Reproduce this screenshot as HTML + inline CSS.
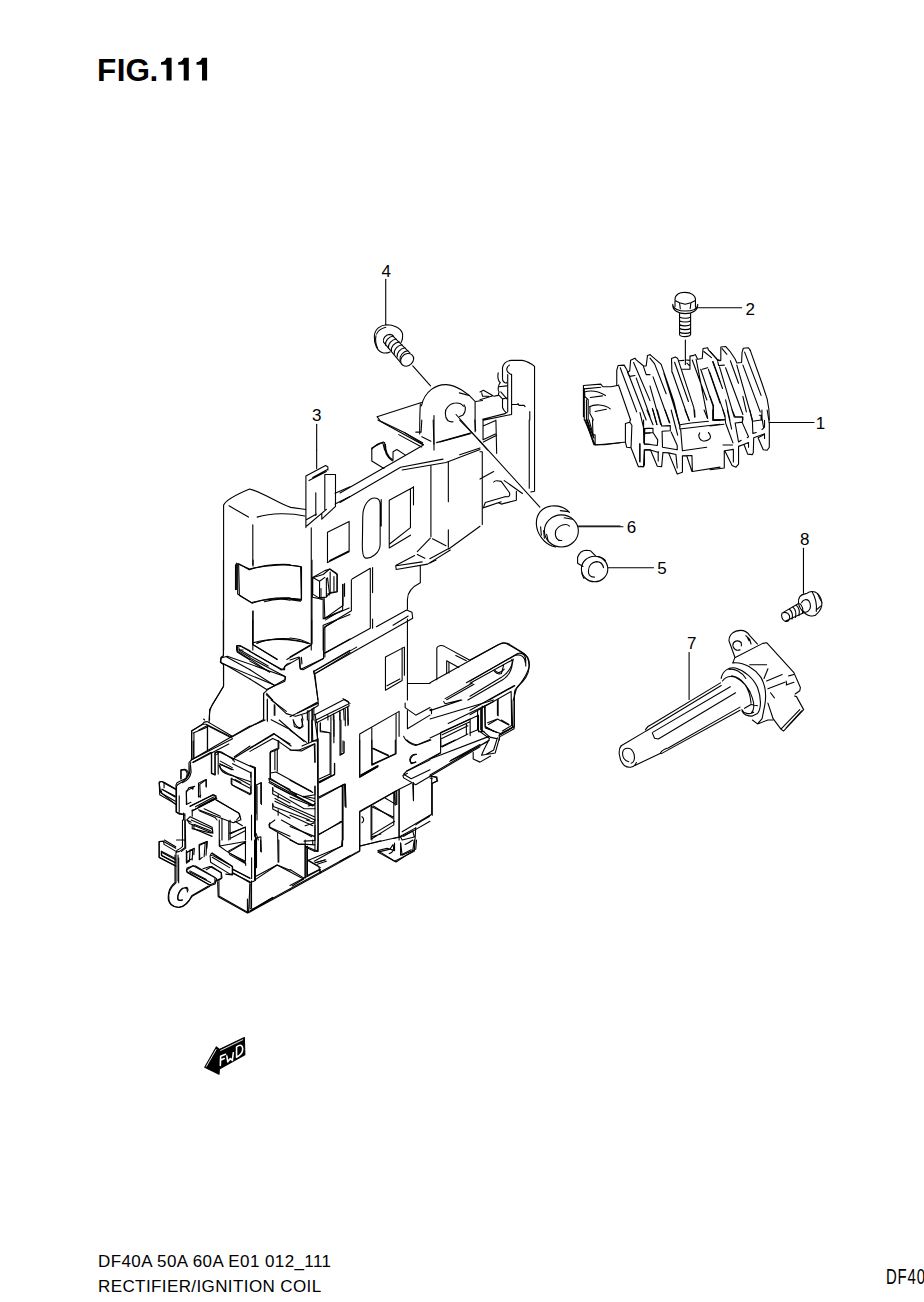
<!DOCTYPE html>
<html><head><meta charset="utf-8">
<style>
html,body{margin:0;padding:0;background:#fff;}
body{width:924px;height:1302px;position:relative;overflow:hidden;font-family:"Liberation Sans",sans-serif;color:#000;}
.t{position:absolute;white-space:nowrap;line-height:1;}
#l1{left:98px;top:1253px;font-size:17px;letter-spacing:0.4px;}
#l2{left:98px;top:1278px;font-size:17px;letter-spacing:0.4px;}
#df{left:886px;top:1266px;font-size:22px;transform-origin:0 0;transform:scaleX(0.68);letter-spacing:1.2px;}
svg{position:absolute;left:0;top:0;}
svg path,svg ellipse,svg circle,svg polyline,svg line{fill:none;stroke:#000;stroke-width:1.1;vector-effect:non-scaling-stroke;stroke-linejoin:round;stroke-linecap:round;}
svg text{font-family:"Liberation Sans",sans-serif;font-size:17px;fill:#000;}
</style></head><body>
<div class="t" id="l1">DF40A 50A 60A E01 012_111</div>
<div class="t" id="l2">RECTIFIER/IGNITION COIL</div>
<div class="t" id="df">DF40</div>
<svg width="924" height="1302" viewBox="0 0 924 1302">
<text x="312" y="421">3</text>
<text x="381.5" y="276.5">4</text>
<text x="745.5" y="314.5">2</text>
<text x="815.7" y="428.5">1</text>
<text x="626.8" y="533">6</text>
<text x="657.3" y="574">5</text>
<path d="M769,422.5 L814,422.5"/>
<path d="M583,566.5 L577.6,563.3 L577.6,557.3 C579.2,553 582.4,550.3 586.2,550.3 L590.6,550.8 L595.4,555.7"/>
<ellipse cx="594.6" cy="569" rx="13.2" ry="12.7"/>
<path d="M597,556.5 C600.5,556.6 603.5,558 605.5,560.5 M581.8,573 C582.3,575 583,577 584,578.5"/>
<path d="M603.5,567.6 C602.5,562.7 599.2,561.6 596.5,561.6 C591.6,562.2 588.4,566 588.4,571.4 C588.4,574.6 590.6,576.8 594.4,577.1"/>
<path d="M608,567.7 L653.5,567.7 M578.2,526.8 L623,526.8"/>
<text x="800" y="544.5">8</text>
<text x="687" y="648.5">7</text>
<g style="font-family:'Liberation Sans',sans-serif;font-weight:bold;font-size:31.5px">
<text x="97" y="81" style="font-size:31.5px;font-weight:bold">F</text>
<text x="116.8" y="81" style="font-size:31.5px;font-weight:bold">I</text>
<text x="125.6" y="81" style="font-size:31.5px;font-weight:bold">G</text>
<text x="149.6" y="81" style="font-size:31.5px;font-weight:bold">.</text>
</g>
<path style="fill:#000;stroke:none" d="M166.5,57.8 L171.6,57.8 L171.6,80.4 L166.5,80.4 L166.5,64.8 L161.0,64.8 L161.0,62.2 C163.5,62 166.0,60.5 166.5,57.8 Z M183.7,57.8 L188.8,57.8 L188.8,80.4 L183.7,80.4 L183.7,64.8 L178.2,64.8 L178.2,62.2 C180.7,62 183.2,60.5 183.7,57.8 Z M202.0,57.8 L207.1,57.8 L207.1,80.4 L202.0,80.4 L202.0,64.8 L196.5,64.8 L196.5,62.2 C199.0,62 201.5,60.5 202.0,57.8 Z "/>
<path d="M305.9,476 L305.9,527.6 M305.9,476 L325.6,465.5 L327.9,467 L327.9,470 M309,480.6 L326.4,471.5 M312.7,477.6 L327.9,469.2 M324.8,474.5 L335.5,474.5 L335.5,506.4 M324.8,474.5 L324.8,509.4 M315.8,492.7 L315.8,515.5 M305.9,520 L316.5,514 M321.8,514 L321.8,519.2 L335.5,506.4 M306.7,526 L326.4,509.4"/>
<path d="M447.8,420.5 C444.5,417 444.5,410 447.8,406.9 C450,404.5 453,403 455.6,403 C458.5,402.8 461.5,403.5 463.4,406.2 M464,404.9 C466,407 466,412 462.7,415.3 L459.5,416.6 M447.8,420.5 C449.5,421.8 451,422 453,421.8"/>
<path d="M430.3,538.1 L417.3,551.7 M432.5,538.7 L446,545.7 M417.3,554.4 L424.9,558.2 M429.8,558.7 L448.7,548.4 M448.7,549 L480,526.2 M396.2,565.2 L414.6,555.5 M395.7,565.7 L396.2,569.5 L427.6,564.1 L450.3,550 M396.2,565.7 L422.2,561.9"/>
<!--LABELS-->
<g clip-path="url(#c1)"><g transform="translate(150,250) scale(0.21645)">
<path d="M770,805 L770,924"/>
</g></g>
<g clip-path="url(#c2)"><g transform="translate(350,250) scale(0.21645)">
<path d="M165,135 L165,345"/>
<path d="M290,535 L372,628"/>
<path d="M330,720 C345,650 400,620 445,622 C490,625 545,660 578,700 L578,840"/>
<path d="M505,660 L550,672 M580,700 L612,695"/>
<path d="M325,710 C322,760 322,800 322,850 M388,765 L388,924"/>
<path d="M490,760 L635,924"/>
<path d="M125,770 L330,705 M125,770 L140,790 L251,843 L339,899 M225,853 L331,910 M400,890 L560,845"/>
<path d="M100,920 C120,900 140,888 152,892 L160,924"/>
</g></g>
<g clip-path="url(#c3)"><g transform="translate(150,450) scale(0.21645)">
<path d="M770,0 L770,85"/>
<path d="M340,255 C350,230 400,205 460,180 C520,195 600,250 650,265 L720,275"/>
<path d="M340,255 L340,924 M365,258 L455,310 M495,310 C560,290 650,290 715,305 M475,345 L475,530 M745,360 L745,924"/>
<path d="M405,525 L405,665 L470,705 C530,690 620,680 700,690 L700,540 C640,525 540,530 460,550 L405,525 M395,530 L395,645"/>
<path d="M475,745 L475,924 M480,890 C540,870 650,870 740,895 M400,905 L400,924 L430,924"/>
<path d="M820,380 L920,330 L920,470 L820,520 Z M830,510 L920,465"/>
<path d="M750,590 L750,680 L800,690 L800,780 L890,740 L890,620 M750,590 L800,575 L830,550 L865,575 L865,655 L820,665 M820,590 L830,670 M790,640 L790,690"/>
<path d="M800,810 L800,924 M800,810 L924,760 M805,780 L920,730 M855,200 L924,170 M855,250 L924,215"/>
</g></g>
<g clip-path="url(#c4)"><g transform="translate(340,420) scale(0.15152)">
<path d="M250,0 L550,165 M430,85 L545,150 M545,168 L0,482"/>
<path d="M0,545 L400,312 L680,258 M410,330 L700,280 L924,195 M790,230 L924,185"/>
<path d="M290,320 L210,270 L210,185 L285,145 L295,150 C290,200 310,245 345,270 M350,265 L350,210 L375,195 L430,230 M300,160 C300,210 320,245 345,260"/>
<path d="M500,80 L535,80 L540,0 M615,0 L620,160 M660,145 L860,90 M790,0 L924,140 M890,0 L895,70 M540,110 L600,140"/>
<path d="M150,640 C150,560 190,515 230,515 C260,515 265,540 265,560 L265,820 C265,880 200,920 165,910 C150,900 145,870 148,800 Z M272,525 L272,700"/>
<path d="M325,530 L325,845 L465,760 M325,530 L480,445 M465,455 L465,710 L325,820 M485,440 L485,560"/>
<path d="M600,300 L600,770 M715,275 L715,540 M715,725 L715,840"/>
</g></g>
<g clip-path="url(#c5)"><g transform="translate(480,420) scale(0.15152)">
<path d="M20,0 L20,130 L105,90 M105,0 L110,220 M20,40 L100,5 M22,145 L110,100"/>
<path d="M325,0 L325,450 M360,0 L360,470 L335,475"/>
<path d="M0,140 L395,575"/>
<path d="M0,210 L15,210 L15,690 M0,390 L90,340"/>
<path d="M90,410 C95,400 120,400 140,405 L195,480 C200,500 190,510 170,505 L35,545 L25,570 M160,400 L280,485 M240,470 L240,530 L140,555 L120,545 M20,580 L140,540"/>
<path d="M372,686 C370,620 410,575 470,568 C520,562 560,575 590,610"/>
<ellipse cx="537" cy="732" rx="112" ry="106"/>
<path d="M590,700 C570,680 520,690 500,730 C490,770 510,800 540,795"/>
<path d="M372,686 C375,750 420,810 474,832 L500,838"/>
<path d="M650,700 L924,700"/>
<path d="M530,598 L585,605 M555,645 L610,655 M400,705 L405,760 M420,730 L425,780 M440,755 L450,800"/>
<path d="M690,0 L760,165 L924,150 M705,0 L750,150 M720,0 L752,120"/>
</g></g>
<g clip-path="url(#c6)"><g transform="translate(150,560) scale(0.15152)">
<path d="M485,0 L485,632 C470,642 465,662 470,680 L485,690 L485,835 L430,924"/>
<path d="M570,20 L570,195 M585,25 L590,235 L675,285 C740,260 830,245 924,250 M585,25 L655,65 C720,40 800,25 924,30 M680,0 L680,40 M755,275 C820,255 880,255 924,265"/>
<path d="M680,335 L680,560 L840,655 M705,550 C780,520 850,515 924,520"/>
<path d="M575,565 L575,600 L790,740 M575,565 L600,570 L865,720 L880,720 C895,690 910,680 924,680 M598,595 L780,700"/>
<path d="M475,645 L510,635 L895,770 L890,800 L770,855 M480,685 L820,825"/>
<path d="M750,880 L750,924 M770,880 L810,924"/>
</g></g>
<g clip-path="url(#c7)"><g transform="translate(290,560) scale(0.15152)">
<path d="M0,35 L70,45 L75,265 L0,255 M0,262 L70,272"/>
<path d="M145,0 L145,555 L0,640 M0,515 C60,520 100,535 125,550"/>
<path d="M150,115 L230,70 L265,60 L310,90 L310,210 L265,215 L240,245 L190,250 L150,225 Z M150,115 L195,140 L230,115 M195,140 L195,250 M240,120 L240,240 M265,80 L265,210 M290,110 L290,205 M350,160 L350,300 L230,385 L225,250 M360,155 L360,240 M235,395 L300,355"/>
<path d="M410,125 L530,55 L530,450 L230,615 M545,50 L545,215 M545,390 L545,450 M405,130 L405,335 L230,440 L230,640"/>
<path d="M0,660 L60,640 L65,710 L75,720 L220,650 M155,735 L160,752 L810,385 L805,345 L770,330 L570,440 M160,735 L440,575 M680,430 L780,370"/>
<path d="M860,40 L860,150 C820,170 775,200 775,260 L775,325"/>
<path d="M775,390 L775,924 M775,815 L924,815"/>
<path d="M630,640 L630,860 L740,795 M630,640 L755,575 L755,760 M740,580 L740,790 M640,830 L725,785"/>
<path d="M160,752 L185,924 M350,915 L365,924"/>
</g></g>
<g clip-path="url(#c8)"><g transform="translate(430,560) scale(0.15152)">
<path d="M0,20 L40,0"/>
<path d="M45,790 L45,580 C50,565 75,560 95,570 L260,660 M110,665 L110,750 M110,665 L190,710 M125,675 L125,745 M170,630 L240,665"/>
<path d="M0,810 L450,560 C480,545 510,545 530,560 L610,610 C645,630 660,660 655,700 C645,760 600,810 570,850 L550,924"/>
<path d="M240,810 L560,630 C600,615 630,645 630,680 M430,730 C445,750 470,745 490,720 M540,655 C550,700 530,760 480,790 L250,924 M390,924 L560,830"/>
<path d="M100,915 L280,812 M110,922 L290,820"/>
</g></g>
<g clip-path="url(#c9)"><g transform="translate(150,700) scale(0.15152)">
<path d="M430,0 C400,40 390,70 390,150"/>
<path d="M275,205 L345,160 L370,160 L540,245 M285,218 L380,178 M380,170 L380,330 M275,205 L275,390 M290,218 L290,380"/>
<path d="M540,245 L750,128 M275,395 L545,255 M285,412 L520,290"/>
<path d="M270,410 C265,420 265,430 265,440 C265,480 260,510 215,540 C200,550 180,555 175,570 L175,740 L230,760"/>
<path d="M205,465 L205,520 M205,465 L230,460 C245,470 250,490 240,505"/>
<path d="M750,0 L750,130 M775,0 L775,140 M800,0 L900,75 M820,30 L820,100 M800,130 L924,195"/>
<path d="M405,345 L405,485 L430,495 L430,350 L450,340 L690,450 L690,900 M440,360 L455,345 M545,395 L560,380 L820,225 L924,290 M570,375 L680,305 M545,420 L665,480 L665,510 M460,420 L540,460"/>
<path d="M460,430 C460,470 500,490 545,500 L665,540 M540,515 L540,560 L665,620 L665,570 M560,525 L600,545"/>
<path d="M700,560 L700,750 M735,545 L735,690 M850,270 L850,320 M795,340 L840,320 L840,470 M795,340 L795,520 M785,520 L924,590 M785,545 L924,620 M810,580 L810,620 L924,680 M810,690 L810,720 L924,780 M790,810 L790,840 L924,900 M825,650 L924,705"/>
<path d="M60,545 C60,535 80,535 95,550 L170,590 M60,545 L70,610 L170,690 M80,590 L165,640"/>
<path d="M240,610 L240,690 L270,675 M240,610 L255,580 L295,570 M320,550 L320,640 L335,630 M320,550 L370,525 L370,570"/>
<path d="M265,700 L420,625 L440,650 L280,730 M300,705 L420,640 M440,660 L590,750 L600,790 L550,810 L320,725"/>
<path d="M230,750 L230,924 M245,790 L260,815 L415,880 L410,840 L265,770 Z M290,830 L290,850 L410,900 M475,780 L475,924 M520,800 L520,924 M525,880 L630,840 L630,924 M560,800 L610,830"/>
<path d="M670,760 L670,924 M700,880 L715,924"/>
</g></g>
<g clip-path="url(#c10)"><g transform="translate(290,700) scale(0.15152)">
<path d="M0,110 L60,80 L180,20 M50,85 L180,15 M125,70 L125,270 M145,60 L150,270 L180,270 M0,330 L60,330 L160,290 L165,410 M20,130 C30,160 50,190 75,180 C85,165 80,140 75,125 M0,200 L110,280"/>
<path d="M165,95 L175,150 L390,40 L385,10 L365,0 M180,150 L185,924 M200,150 L200,210 L260,215 M270,110 L270,500 L190,540 M290,100 L290,240 M295,420 L295,490 L195,545 M330,80 L330,365 L355,350 M350,270 L350,340 M365,60 L365,170 M380,50 L385,160"/>
<path d="M0,530 L150,610 M0,600 L160,670 M0,640 L150,700 M0,700 L160,770 M0,760 L150,830 M0,835 L160,900 M90,635 L165,650 M120,700 L165,690 M100,830 L165,810 M165,570 L165,924"/>
<path d="M190,640 L360,555 L365,700 M190,890 L340,800 M350,560 L350,924"/>
<path d="M460,225 L460,510 L580,440 M460,225 L720,75 L720,240 M700,90 L700,355 L540,430 M540,185 L540,430 M545,320 L650,370 M470,495 L580,435"/>
<path d="M760,20 L760,50 L830,100 L924,50 M775,70 L775,190 L924,100 M750,240 C760,270 800,295 830,300 L924,260 M830,360 C800,365 785,395 800,420 L830,410 M750,490 L800,520 L924,460 M750,490 L770,470 L924,395 M815,545 L815,660"/>
<path d="M460,740 L460,924 M460,740 L700,600 L700,690 M540,700 L540,924 M550,700 L680,780 M720,590 L720,924 M540,890 L690,800 M475,770 C490,780 490,800 475,810"/>
<path d="M740,870 L924,760 M750,900 L924,800"/>
</g></g>
<g clip-path="url(#c11)"><g transform="translate(430,700) scale(0.15152)">
<path d="M0,70 L210,0 M90,10 L100,25 L200,0 M0,125 L420,0 M0,65 L10,60 L10,90"/>
<path d="M120,155 L420,10 M445,0 L445,100 M540,0 L545,180 L460,225 M555,0 L555,190 L465,240 M380,150 L445,125 L520,165 M370,180 L440,215"/>
<path d="M0,250 L320,100 L320,210 L360,210 M345,40 L345,200 L395,245 L440,255 M335,60 L335,195 M360,40 L365,185 L460,220"/>
<path d="M70,215 L70,350 L0,390 M70,215 L265,125 L265,235 M80,230 L260,145 M75,255 L250,170 M80,310 L250,225 M240,160 L240,230"/>
<path d="M0,390 L390,240 M130,405 L380,275 M0,495 L390,265"/>
<path d="M390,260 L355,330 L340,365 L430,350 L460,245 M370,360 L420,330 L445,250 M285,345 L285,390 L330,410 L400,370"/>
<path d="M0,500 L40,510 L50,535 L15,550 L15,760 M0,515 L15,520"/>
</g></g>
<g clip-path="url(#c12)"><g transform="translate(150,840) scale(0.15152)">
<path d="M60,10 L60,115 L165,170 M60,10 L90,10 L170,55 M75,75 L165,120 M75,90 L80,105 L165,150 M95,0 L170,45"/>
<path d="M165,100 L165,280 C140,300 120,340 120,380 C120,420 150,445 190,445 C230,440 260,400 280,370 L395,305 M185,100 L185,270 M175,0 L230,0 L230,50 L195,75 L175,80"/>
<path d="M230,315 C200,320 180,360 185,390 C190,400 210,400 215,395 M215,320 C235,310 250,320 245,335"/>
<path d="M240,70 L240,150 L260,140 L265,65 M245,80 L285,60 M245,140 L275,125 M325,30 L325,130 L345,115 M325,30 L375,10 L370,100"/>
<path d="M240,200 L245,185 L285,170 L440,255 L430,290 L400,300 L245,215 Z M260,210 L400,280 M350,190 L395,175 L470,215 L470,255 L430,275 M400,95 L410,85 L545,175 L545,230 L500,225 M420,105 L520,160 M545,195 L660,250 M545,220 L660,275"/>
<path d="M455,265 L455,370 L650,480 L660,290 M650,480 L924,330 M660,470 L810,380 M670,445 L670,270 M690,265 L840,165 L924,200"/>
<path d="M460,0 L460,40 L630,10 L630,140 L520,85 M520,80 L630,15 M700,0 L700,180 M730,0 L730,75 M850,0 L850,145 M690,0 L690,260"/>
</g></g>
<g clip-path="url(#c13)"><g transform="translate(290,840) scale(0.15152)">
<path d="M0,0 L60,30 L150,30 L150,0 M100,0 L100,245 M115,40 L115,240 M100,40 L180,75 L185,0 M115,130 L190,175 L200,215 M0,195 L90,250"/>
<path d="M0,330 L460,75 L460,0 M0,300 L200,195 M170,150 L235,130 M180,160 L240,140 M160,140 L340,40 L345,0"/>
<path d="M465,40 L600,5 M580,70 L700,145 L830,60 L835,0 M580,70 L640,55 L690,70 L690,20 M730,20 L730,100 L800,65 M760,30 C780,20 790,15 810,0"/>
</g></g>
<g clip-path="url(#b2)"><g transform="translate(650,280) scale(0.15152)">
<path d="M165,130 C165,95 195,80 232,82 C270,82 300,100 300,130 M165,135 L165,175 M300,130 L300,180 M195,150 L200,190 M270,150 L265,190 M165,135 L195,150 L232,160 L270,150 L300,135"/>
<path d="M150,160 C145,200 190,222 232,222 C280,222 318,200 315,160 M150,165 C155,190 190,205 232,205 C280,205 312,190 315,165"/>
<path d="M195,222 L195,360 C200,378 262,378 268,360 L268,222 M197,245 C210,255 255,255 266,245 M197,270 C210,280 255,280 266,270 M197,295 C210,305 255,305 266,295 M197,320 C210,330 255,330 266,320 M197,345 C210,355 255,355 266,345"/>
<path d="M315,183 L605,183"/>
</g></g>
<g transform="translate(760,530) scale(0.08658)">
<path d="M502,210 L502,730"/>
<path d="M445,840 C440,775 475,745 520,738 L545,730 C570,705 630,700 665,735 C700,770 720,830 712,880 C700,930 670,960 640,985 C610,1000 560,995 530,970 L505,950 M445,840 C450,880 470,920 505,950"/>
<path d="M600,710 C630,760 660,850 650,940 M665,735 L690,790 L715,835 M700,880 L660,915"/>
<path d="M480,840 C500,800 540,795 565,820 C590,850 590,910 560,935 C540,955 515,950 500,940"/>
<path d="M255,960 L445,848 M290,1055 L505,955 M255,960 C240,990 255,1040 290,1055 C330,1065 350,1030 340,990 C330,960 300,945 270,955"/>
<path d="M340,915 C370,940 380,990 370,1030 M380,890 C410,915 420,960 410,1010 M420,870 C450,895 460,940 450,990 M460,850 C490,875 500,920 490,965"/>
</g>
<g transform="translate(600,620) scale(0.15152)">
<path d="M588,215 L588,525"/>
<path d="M140,830 L300,735 M300,725 C310,705 325,695 340,690 L795,415 M305,732 L800,432 M350,740 L860,440 M345,745 L360,780 L385,785 L895,480 M400,875 C410,860 430,850 450,845 L924,575 M405,882 L924,595 M230,960 L400,880"/>
<path d="M140,830 C120,850 120,920 160,960 C190,980 230,975 240,940 M150,870 C160,840 200,840 215,865 C235,895 230,940 205,945 M150,870 C145,900 160,930 190,935"/>
</g>
<g transform="translate(690,620) scale(0.12987)">
<path d="M345,285 L300,160 C300,110 340,80 390,80 C420,80 440,90 460,120 L520,185 M395,175 C370,150 330,160 330,195 C330,225 360,240 385,230 M360,160 C390,155 400,180 395,200 M430,120 L460,150 L470,185 M440,130 L455,160"/>
<path d="M345,290 L560,180 L590,175 L800,405 L850,520 L845,545 L810,570 M330,330 L345,290"/>
<path d="M240,450 C250,390 300,360 350,370 C420,390 490,450 520,520 C550,600 550,680 520,720 L480,740 C440,740 410,720 400,700 M250,470 C270,440 310,430 350,440 C410,470 460,530 480,600 C500,660 490,700 470,720 M300,380 C340,370 400,400 430,450 M320,430 C400,440 460,520 470,640 M420,680 L470,650 L520,660 M400,690 C410,720 460,730 490,710"/>
<path d="M330,330 C420,320 500,380 545,440 C580,500 590,580 575,660 L555,760 L520,800 L480,770 M520,800 L600,770 L640,770"/>
<path d="M460,345 L590,345 M600,375 L570,450 M590,470 L710,420 M600,530 L730,480 M740,500 L800,480 M620,560 L650,600 M740,470 L745,500 M760,430 L800,420"/>
<path d="M640,760 L700,840 L720,855 L875,690 L820,590 L805,585 M700,840 L845,690 M740,830 L860,700 M600,640 L640,760"/>
</g>
<g transform="translate(195,1030) scale(0.06494)">
<path style="fill:#000;stroke:#000" d="M150,575 L330,260 L375,300 L760,115 L768,380 L375,600 L370,680 Z"/>
<path style="stroke:#fff;stroke-width:0.9" d="M175,560 L325,300 M395,315 L735,150"/>
<path style="stroke:#fff;stroke-width:1.6" d="M390,545 L395,405 L470,375 M392,465 L450,440 M490,400 L505,490 L545,440 L575,470 L590,350 M640,420 L640,260 C700,215 735,235 735,290 C735,350 690,395 640,420 Z"/>
</g>
<g transform="translate(350,300) scale(0.10823)">
<path d="M225,330 C230,270 280,230 340,228 C400,228 470,260 485,310 C490,350 480,380 470,395 M225,330 C220,400 250,480 310,490 C340,492 360,485 370,480"/>
<path d="M245,315 C260,280 290,262 330,252 M240,330 C232,370 238,410 255,448"/>
<path d="M310,390 C300,350 330,320 370,318 C390,318 400,330 405,340 M385,322 L555,490 M310,390 L470,580"/>
<path d="M470,580 C460,540 490,500 530,495 C565,490 590,515 588,545 C585,580 555,610 520,612 C495,612 478,600 470,580"/>
<path d="M400,333 C355,340 322,380 328,418 M427,360 C382,367 349,407 355,445 M454,387 C409,394 376,434 382,472 M481,414 C436,421 403,461 409,499 M508,441 C463,448 430,488 436,526 M535,468 C490,475 457,515 463,553"/>
</g>
<g clip-path="url(#d1a)"><g transform="translate(150,620) scale(0.10823)">
<path d="M678,0 L678,330 L655,345 L650,390 L680,405 L680,610 L550,830 L550,924 M705,340 L924,460 M680,405 L924,545"/>
<path d="M805,235 L805,295 L924,370 M805,235 L830,235 L924,285 M820,255 L830,290 L924,345 M495,915 L505,924"/>
</g></g>
<g clip-path="url(#d1b)"><g transform="translate(250,620) scale(0.10823)">
<path d="M25,0 L25,225 M570,0 L570,215 M65,215 C150,170 400,160 530,215 M25,225 L250,365 M340,365 L560,235"/>
<path d="M280,460 L320,460 L320,430 L460,350 L465,455 L490,460 L680,355 L680,80 L700,60 L800,0 M475,345 L480,405 M690,305 L924,175"/>
<path d="M0,290 L290,460 M0,350 L320,520 L325,550 L235,600 M0,380 L180,480 M0,460 L220,600 M0,545 L150,640 M235,600 L160,645 L125,680 L125,924"/>
<path d="M150,690 L335,865 L420,890 L520,860 L630,790 L630,760 L600,505 M590,470 L595,500 L924,300 M595,470 L924,280"/>
<path d="M160,730 L160,924 M230,790 L230,880 M440,860 L630,770 M480,880 L490,924 M530,840 L530,924 M575,820 L575,924 M590,810 L590,924 M590,880 L870,735 L924,770 M610,924 L900,780 M720,880 L720,924 M770,870 L770,924 M830,840 L830,924 M865,820 L870,924 M905,810 L905,924"/>
</g></g>
<g clip-path="url(#d1c)"><g transform="translate(150,720) scale(0.10823)">
<path d="M385,100 L480,45 L500,20 L530,15 L760,150 M450,95 L530,50 L750,165 M530,50 L530,285 M385,100 L385,365 M400,195 L400,350"/>
<path d="M380,370 L760,150 L924,55 M395,390 L560,300"/>
<path d="M380,370 L360,395 L360,480 C355,520 330,545 290,560 L250,580 L240,600 L240,850 L270,870 L300,870 M375,420 L380,480 C375,520 345,560 300,580"/>
<path d="M285,460 L285,545 M285,460 L320,455 C345,460 360,480 350,510"/>
<path d="M90,580 C90,565 110,565 130,575 L235,635 M85,585 L90,690 L235,775 M110,640 L235,705 M105,655 L110,680 L235,750 M130,585 L130,625"/>
<path d="M335,655 L340,775 M340,655 L400,620 L395,640 M460,595 L465,715 M460,595 L520,550 L520,620"/>
<path d="M370,800 L580,690 L610,700 L610,725 L390,840 M450,800 L600,720 M610,740 L820,860 L830,890 L800,924 M460,840 L600,900 L620,924 M500,820 L650,890"/>
<path d="M270,700 L270,850 M310,860 L310,924 M390,830 L390,890"/>
<path d="M570,300 L570,490 L600,505 L600,300 L630,290 L660,295 L770,365 L780,385 M630,290 L630,500 M650,380 L760,440 M640,420 C650,460 700,490 760,510 L924,600 M650,410 L770,460 M750,540 L750,590 C760,610 800,625 924,690 M760,545 L924,630 M780,340 L924,240"/>
</g></g>
<g clip-path="url(#d1d)"><g transform="translate(250,720) scale(0.10823)">
<path d="M0,60 L140,0 M270,0 L500,200 M400,0 L410,60 L460,80 L490,60 L480,0"/>
<path d="M0,260 L220,125 L380,240 M0,290 L210,170 L260,195 M260,195 L380,280 L480,285 L600,220 L600,390 M480,240 L630,175 L630,924 M540,0 L540,210 M570,0 L570,195 M600,0 L625,170"/>
<path d="M185,300 L260,270 L260,190 M185,300 L185,540 M230,290 L230,460"/>
<path d="M190,490 L240,480 L570,660 M175,540 L180,565 L590,790 L600,770 M190,540 L430,690 M490,710 L600,690 L600,610 M210,625 L210,650 L500,820 L600,820 M225,610 L580,790 M210,770 L215,800 L550,924 M230,750 L600,924 M260,690 L260,720 M260,830 L260,880"/>
<path d="M650,30 L650,100 L740,120 L740,500 L640,545 M640,580 L780,505 L780,400 M775,0 L775,210 M840,0 L840,320 L870,300 L870,200 M905,0 L905,50 M640,720 L860,600 L880,600 L880,800 M855,600 L855,924"/>
<path d="M0,420 L50,440 L50,924 M10,480 L10,680 M60,600 L100,580 L100,770 M65,610 L65,924"/>
</g></g>
<g clip-path="url(#d2a)"><g transform="translate(150,820) scale(0.10823)">
<path d="M300,0 L300,245 C290,260 270,270 250,280 L240,300 L240,580 C190,620 165,680 175,740 C185,790 230,810 275,805 C320,800 360,760 385,700 L540,610 M325,0 L330,260 L290,290 M265,350 L265,580"/>
<path d="M85,200 L85,345 L240,425 M85,200 L125,195 L130,225 L240,290 M105,290 L105,325 L240,395 M110,300 L240,370"/>
<path d="M300,630 C270,650 250,700 255,730 C260,745 280,745 295,740 M325,625 C345,615 360,640 345,665"/>
<path d="M340,300 L340,400 M340,300 L410,262 L405,320 M395,270 L390,370 M455,235 L460,360 M455,235 L530,198 L525,260 M510,210 L500,340"/>
<path d="M340,460 L345,480 L550,600 L600,580 L600,530 L420,425 L395,425 L340,460 M370,470 L520,550"/>
<path d="M520,460 L570,430 L660,490 L665,535 L610,560 M555,330 L560,390 L740,500 L760,500 L760,430 L590,320 L555,330 M575,345 L735,440 M760,450 L924,540 M770,490 L924,580"/>
<path d="M640,0 L640,240 L710,290 L880,390 L885,420 M720,290 L885,200 M735,320 L885,405 M740,0 L740,180 M740,130 L880,65 M740,170 L880,100"/>
<path d="M390,40 L390,80 L560,120 L580,100 L570,80 L380,0 M405,40 L560,100 M340,0 L380,20"/>
<path d="M625,570 L630,710 L900,860 M900,730 L900,860"/>
</g></g>
<g clip-path="url(#d2b)"><g transform="translate(250,820) scale(0.10823)">
<path d="M0,580 L50,560 L50,0 M15,350 L15,540 M60,165 L100,155 L105,295 M60,170 L60,440"/>
<path d="M0,590 L0,820 L30,820 M0,840 L924,330 M30,820 L210,715 M55,520 L250,415 L495,545 M255,120 L260,390"/>
<path d="M175,40 L180,70 L440,220 L600,230 M175,40 L230,0 M290,0 L570,155 M500,195 L600,190 M520,0 L590,20 L600,0"/>
<path d="M600,50 L600,285 L630,290 L630,0 M510,235 L510,535 M525,250 L525,515 L645,455 L650,490 M520,255 L600,290 M640,130 L855,15 L855,240 L535,375 L650,440 M600,395 L690,370"/>
<path d="M390,610 L495,545"/>
</g></g>
<g clip-path="url(#q1)"><g transform="translate(570,340) scale(0.08658)">
<path d="M155,525 L155,885 M155,525 L355,510 L380,540 L470,540 L550,525 M160,565 L355,545 M165,600 C200,590 300,575 410,640 M235,665 L375,645 M225,770 C280,740 400,740 465,795 M290,825 L420,800 M170,600 L170,650 L210,690 L210,924 M190,690 L190,924 M230,770 L230,850 L270,924 M165,560 L165,924"/>
<path d="M540,525 L540,350 L555,295 L625,290 L655,340 L880,924 M560,520 L700,924 M580,320 L770,830"/>
<path d="M665,375 L690,355 L700,235 L750,210 L765,230 L850,300 L880,300 L895,180 L924,170 M670,390 L690,420 L750,410 M735,260 L924,700 M765,440 L924,880 M850,310 L880,400 L924,400"/>
</g></g>
<g clip-path="url(#q2)"><g transform="translate(650,340) scale(0.07686)">
<path d="M0,190 L140,310 L150,330 L250,620 L310,800 L380,1090 M0,235 L60,310 L210,700 M0,600 L140,1100 M40,480 L250,1070 M30,890 L90,1100 M180,430 L380,1080"/>
<path d="M280,240 L285,420 M280,240 L330,220 L360,240 L390,330 L570,880 L580,1000 M380,270 L440,265 M320,290 L500,800 M290,420 L510,1050"/>
<path d="M420,380 L520,380 L520,210 L570,200 L590,190 L620,250 L680,240 L690,110 L750,100 L760,130 L870,250 L911,270 M460,0 L460,320 M470,260 L520,265 M480,300 L510,330"/>
<path d="M550,260 L740,780 M600,250 L750,1020 M680,380 L750,360 M660,380 L820,860 L820,1040 L911,1040 M700,150 L800,230 M760,380 L911,820 M820,280 L911,540"/>
</g></g>
<g clip-path="url(#q3)"><g transform="translate(710,340) scale(0.08658)">
<path d="M125,230 L125,80 L180,75 L230,130 L290,220 L310,265 L365,260 L370,145 L385,95 L445,90 L465,120 M0,130 L80,220 M85,235 L125,235 M90,250 L100,295 L165,290"/>
<path d="M465,120 L600,500 L660,680 L680,800 L685,924 M400,140 L590,640 M380,290 L580,830 M310,290 L490,924"/>
<path d="M140,100 L195,165 M235,240 L330,500 M180,320 L380,860 M110,310 L280,890 L380,890 L380,924 M380,650 L420,830 M180,690 L230,924 M30,250 L145,560 M0,380 L175,880 M0,650 L40,760 L40,924 L170,920 M570,870 L595,870 L595,924"/>
</g></g>
<g clip-path="url(#q4)"><g transform="translate(570,420) scale(0.08658)">
<path d="M180,0 L275,285 L400,285 L640,255 M200,0 L270,200 M260,0 L265,170 L290,170 L290,280 M640,40 L690,25 L695,0 M640,40 L640,255 L655,315 L705,320 L715,60 L690,25 M705,320 L790,540 L850,540 L860,515 L860,345 L924,345 M805,275 L805,480 M850,0 L850,100 L924,95 M860,150 L924,150 M860,100 L860,280 L924,280"/>
</g></g>
<g clip-path="url(#q5)"><g transform="translate(640,410) scale(0.08658)">
<path d="M0,30 L40,200 L45,380 M80,0 L150,170 M150,0 L195,170 M200,0 L250,180 M290,0 L345,150 M360,0 L435,290 M410,0 L460,190 M520,0 L570,120 M630,0 L635,80 M740,0 L780,95 M845,0 L845,115 L924,115"/>
<path d="M50,215 L150,210 L150,260 L55,270 M55,215 L50,390 L200,410 L205,345 L150,260 M250,185 L350,180 L350,240 L255,245 M255,245 L260,430 L430,460 L430,410 L360,255"/>
<path d="M460,170 L590,150 L790,130 M460,175 L460,220 L924,165 M470,230 L490,470 L770,430 M690,265 C670,290 680,340 720,355 C770,365 815,340 815,310 C810,280 800,270 790,260"/>
<path d="M0,390 L0,600 M0,650 L40,655 L50,460 L120,460 L200,650 L250,655 L265,490 L330,495 L430,740 L490,720 L490,530 L600,525 L605,710 L924,660 M130,465 L215,490 M210,480 L210,590 M330,495 L415,515 L430,670 M540,530 L600,710"/>
</g></g>
<g clip-path="url(#q6)"><g transform="translate(710,410) scale(0.08658)">
<path d="M35,0 L35,120 L160,115 M0,185 L160,165 M150,0 L175,90 L180,150 L265,380 M200,0 L250,220"/>
<path d="M255,0 L290,80 L375,80 L375,140 L290,150 L330,370 L360,350 M370,140 L445,310 L430,320 M460,0 L490,130 L590,115 L590,65 M490,130 L495,270 L535,260 M600,0 L600,90 L620,210 L600,225 M630,120 L630,200"/>
<path d="M660,0 L685,150 L685,430 L660,465 L615,460 L555,320 L630,280 L630,330"/>
<path d="M330,420 L395,395 L445,375 L445,430 M395,405 L435,510 L490,515 L500,490 L505,320 L630,275 M170,470 L270,455 L270,600 M175,480 L255,640 L300,660 L330,625 L330,420 M0,690 L165,670 L165,470 M150,405 L260,405"/>
</g></g>
<g clip-path="url(#d3)"><g transform="translate(340,740) scale(0.15152)">
<path d="M130,0 L130,245 L250,175 M135,232 L250,168 M210,0 L212,160 L365,90 L365,0 M220,55 L320,100"/>
<path d="M440,0 C460,20 500,35 520,30 L600,0 M665,0 L665,45 L760,0 M505,95 C480,90 460,110 460,130 C460,150 480,155 500,145"/>
<path d="M440,205 L660,85 M415,235 L445,220 M415,235 L420,250 L500,295 L924,45 M730,135 L924,30"/>
<path d="M600,240 L640,245 L640,270 L610,285 M605,240 L605,490 L500,560 M520,545 L590,505 M480,290 L485,400"/>
<path d="M130,470 L130,730 L0,800 M130,470 L390,325 L470,285 M205,440 L205,655 L355,560 L355,345 M210,440 L355,510 M300,385 L360,420 M360,340 L365,430 M375,335 L375,425 M205,640 L270,620 M130,700 L390,640 L500,580 M390,325 L390,640"/>
<path d="M250,740 L360,800 L490,735 L500,580 M250,740 L330,720 L350,690 C360,720 350,745 325,750 M400,640 L480,600 L490,640 L410,660 Z M400,680 L410,760 L480,730 L490,660 M350,650 L400,640"/>
<path d="M15,300 L15,700 M35,290 L40,445 M0,540 L15,540"/>
</g></g>
<g clip-path="url(#d4)"><g transform="translate(470,640) scale(0.10823)">
<path d="M0,185 L270,40 C290,25 320,25 340,35 L480,115 C530,140 550,200 545,260 C540,320 500,380 440,430 C420,450 410,470 410,490 L410,800 L270,880 L270,924"/>
<path d="M0,380 L440,125 C490,110 520,150 515,200 L515,240 M0,400 L390,185 M400,175 C390,250 360,300 290,345 L0,520 M220,280 C230,300 260,320 290,310 L310,235"/>
<path d="M0,650 L410,420 M0,690 L380,475 L385,790 L300,840"/>
<path d="M70,650 L70,830 M105,635 L105,850 M140,615 L140,800 L220,845 M260,545 L260,700 M170,780 L250,735 M290,740 L360,780 M0,860 L70,830 L180,910 M270,880 L410,800"/>
</g></g>
<g clip-path="url(#tb)"><g transform="translate(480,340) scale(0.08658)">
<path d="M260,320 C270,270 310,240 360,235 L490,235 C540,245 590,270 630,305 L630,924 M340,290 C310,310 300,340 320,370 L350,395 L365,395 L365,860 L40,925 M320,400 L320,830 L290,850 L30,915"/>
<path d="M260,320 L260,440 C255,480 300,510 310,490 M210,380 C200,430 210,480 235,490 C210,520 200,580 220,600 L210,640 L160,650 M220,540 L310,530 M240,600 L310,680 M260,680 L260,780 C270,810 290,830 300,840 M260,680 L310,670 M220,640 L260,680"/>
<path d="M0,600 L40,580 L150,645 L0,690 M20,610 L30,650 L100,650 M365,745 L430,745 L440,735 L450,755 L510,755 L520,770 M575,825 L575,924"/>
</g></g>
<!--TILES-->
</svg>
</body></html>
